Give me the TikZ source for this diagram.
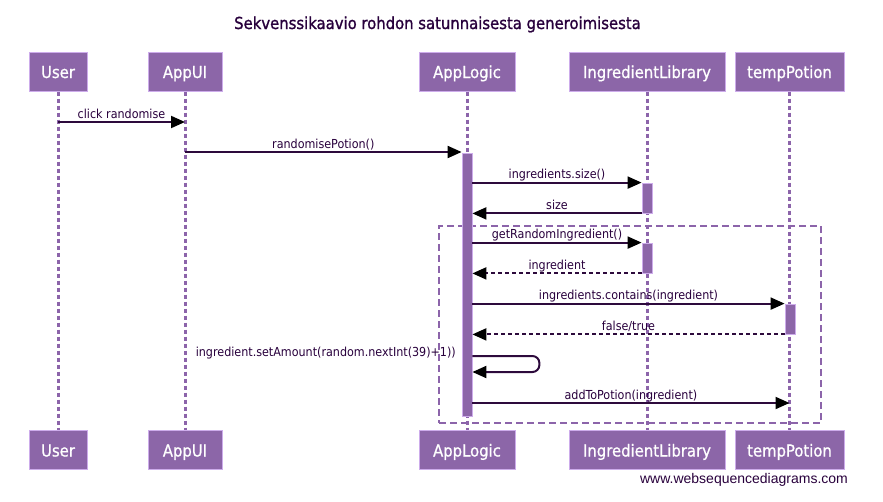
\documentclass[tikz,border=0pt]{standalone}
\usepackage{fontspec}
\setmainfont{DejaVu Sans Condensed}
\setsansfont{Liberation Sans}
\newfontfamily\heavyfont[FakeBold=1.2]{DejaVu Sans Condensed}
\newfontfamily\partfont[FakeBold=0.8]{DejaVu Sans Condensed}
\usetikzlibrary{arrows.meta}
\definecolor{boxfill}{RGB}{140,102,168}
\definecolor{boxline}{RGB}{205,172,235}
\definecolor{lifec}{RGB}{140,100,170}
\definecolor{msgc}{RGB}{45,10,60}
\definecolor{txtc}{RGB}{40,0,60}
\begin{document}
\begin{tikzpicture}[x=1pt,y=-1pt,
  part/.style={draw=boxline, fill=boxfill, line width=1pt, minimum height=39pt, inner sep=0pt,
    text=white, font=\partfont\fontsize{16.5}{18}\selectfont, text height=16pt, text depth=3pt},
  life/.style={draw=lifec, line width=3pt, dash pattern=on 4pt off 3pt},
  actbar/.style={draw=boxline, fill=boxfill, line width=0.8pt, minimum width=10pt, inner sep=0pt},
  msg/.style={draw=msgc, line width=2pt, -{Triangle[length=14pt,width=12pt,color=black,fill=black]}},
  ret/.style={msg, dash pattern=on 4pt off 3pt},
  lbl/.style={text=txtc, font=\fontsize{12.4}{14}\selectfont, inner sep=0pt, anchor=base, yshift=3.8pt},
  loopbox/.style={draw=lifec, line width=2.6pt, dash pattern=on 7pt off 4pt}
]
\useasboundingbox (0,0) rectangle (883,501);
% title
\node[text=txtc, font=\heavyfont\fontsize{16.5}{18}\selectfont, anchor=base] (title) at (437.5,29) {Sekvenssikaavio rohdon satunnaisesta generoimisesta};
% participants
\node[part, minimum width=58pt] (uT) at (58,71.5) {User};
\node[part, minimum width=74pt] (aT) at (185,71.5) {AppUI};
\node[part, minimum width=96pt] (lT) at (467,71.5) {AppLogic};
\node[part, minimum width=156pt] (iT) at (647,71.5) {IngredientLibrary};
\node[part, minimum width=109pt] (tT) at (789.5,71.5) {tempPotion};
\node[part, minimum width=58pt] (uB) at (58,450) {User};
\node[part, minimum width=74pt] (aB) at (185,450) {AppUI};
\node[part, minimum width=96pt] (lB) at (467,450) {AppLogic};
\node[part, minimum width=156pt] (iB) at (647,450) {IngredientLibrary};
\node[part, minimum width=109pt] (tB) at (789.5,450) {tempPotion};
% lifelines
\draw[life] (uT) -- (uB);
\draw[life] (aT) -- (aB);
\draw[life] (lT) -- (lB);
\draw[life] (iT) -- (iB);
\draw[life] (tT) -- (tB);
% loop frame
\node[loopbox, minimum width=382pt, minimum height=197pt, inner sep=0pt] (loop) at (630,324.5) {};
% activations
\node[actbar, minimum height=263pt] (actL) at (467,284.5) {};
\node[actbar, minimum height=30pt] (actI1) at (647,198) {};
\node[actbar, minimum height=30pt] (actI2) at (647,258) {};
\node[actbar, minimum height=30pt] (actT) at (790,319) {};
% row coordinates
\coordinate (r1) at (0,122);
\coordinate (r2) at (0,152);
\coordinate (r7) at (0,356);
\coordinate (r8) at (0,372);
\coordinate (r9) at (0,403);
% messages
\draw[msg] (uT |- r1) -- (aT |- r1) node[lbl, midway] {click randomise};
\draw[msg] (aT |- r2) -- (actL.west |- r2) node[lbl, midway] {randomisePotion()};
\draw[msg] (actL.east |- actI1.north) -- (actI1.north west) node[lbl, midway] {ingredients.size()};
\draw[msg] (actI1.south west) -- (actL.east |- actI1.south) node[lbl, midway] {size};
\draw[msg] (actL.east |- actI2.north) -- (actI2.north west) node[lbl, midway] {getRandomIngredient()};
\draw[ret] (actI2.south west) -- (actL.east |- actI2.south) node[lbl, midway] {ingredient};
\draw[msg] (actL.east |- actT.north) -- (actT.north west) node[lbl, midway] {ingredients.contains(ingredient)};
\draw[ret] (actT.south west) -- (actL.east |- actT.south) node[lbl, midway] {false/true};
\draw[msg, rounded corners=7pt] (actL.east |- r7) -- ++(67,0) -- ++(0,16) -- (actL.east |- r8);
\node[lbl, anchor=base east, yshift=0pt] (selflbl) at (456,360) {ingredient.setAmount(random.nextInt(39)+1))};
\draw[msg] (actL.east |- r9) -- (tT |- r9) node[lbl, midway] {addToPotion(ingredient)};
% footer
\node[text=txtc, font=\sffamily\fontsize{14}{16}\selectfont, anchor=base] (footer) at (744,483) {www.websequencediagrams.com};
\end{tikzpicture}
\end{document}
